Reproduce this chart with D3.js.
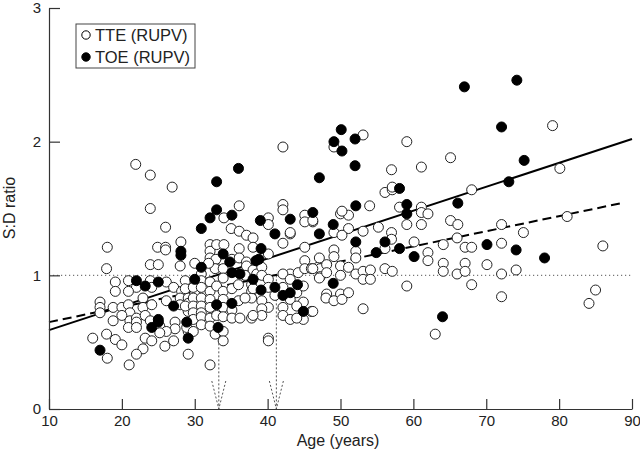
<!DOCTYPE html>
<html><head><meta charset="utf-8">
<script src="https://cdn.jsdelivr.net/npm/d3@7"></script>
<style>body{margin:0;background:#fff}svg{display:block}text{font-family:"Liberation Sans",Arial,sans-serif;fill:#222}</style>
</head><body><svg id="c" width="640" height="453"></svg>
<script>
const xTicks=[10,20,30,40,50,60,70,80,90];
const yTicks=[0,1,2,3];
const seriesNames=["TTE (RUPV)","TOE (RUPV)"];
// TTE (open circles): [age, S:D ratio]
const tte=[
[21.9,1.83],[23.9,1.75],[26.9,1.66],[23.9,1.50],[26.0,1.36],[18.0,1.21],[24.9,1.21],[26.0,1.21],[26.0,1.19],[28.1,1.25],[23.9,1.08],[25.0,1.08],[28.0,1.07],[17.9,1.05],
[19.1,0.95],[19.1,0.88],[20.9,0.96],[23.9,0.96],[26.1,0.95],[22.0,0.91],[24.1,0.91],[20.9,0.88],[22.9,0.83],[27.1,0.91],[28.2,0.88],[29.1,0.93],[30.0,0.92],
[17.0,0.80],[17.0,0.76],[17.0,0.72],[18.8,0.76],[20.0,0.76],[20.9,0.78],[21.1,0.72],[22.9,0.76],[24.1,0.78],[26.1,0.81],[28.0,0.83],[28.0,0.78],[29.1,0.83],[29.1,0.79],[29.1,0.73],[30.0,0.86],
[18.8,0.66],[20.0,0.70],[21.1,0.66],[20.9,0.61],[22.0,0.68],[22.0,0.65],[22.0,0.61],[23.2,0.70],[23.9,0.66],[25.2,0.62],[27.3,0.65],[27.3,0.60],[26.1,0.58],[29.1,0.58],
[16.0,0.53],[17.9,0.56],[19.1,0.52],[20.0,0.48],[23.2,0.53],[24.1,0.51],[25.2,0.57],[27.1,0.51],[25.9,0.47],[18.0,0.38],[22.9,0.45],[22.0,0.41],[21.0,0.33],[29.1,0.41],
[42.1,1.96],[34.0,1.43],[36.1,1.52],[35.0,1.35],[36.1,1.33],[37.1,1.30],[38.0,1.28],[38.0,1.21],[40.1,1.43],[40.1,1.38],[42.1,1.53],[42.1,1.49],[43.1,1.31],[42.1,1.24],[45.1,1.45],[46.2,1.40],[45.1,1.40],[45.1,1.21],[45.1,1.11],
[32.1,1.23],[32.1,1.18],[32.1,1.13],[33.0,1.23],[34.0,1.23],[35.1,1.12],[36.1,1.20],[36.1,1.13],[37.1,1.10],[33.0,1.06],[34.0,1.09],
[32.9,1.12],[37.1,1.07],[38.0,1.04],[30.9,1.01],[32.8,1.05],[33.9,1.05],[33.9,0.98],[36.9,1.00],[30.0,1.09],[31.9,1.09],
[28.7,0.96],[28.7,0.90],[29.8,0.91],[30.9,0.96],[30.9,0.91],[32.1,0.95],[32.1,0.88],[33.0,0.92],[33.9,0.88],[35.1,0.90],[36.0,0.93],[37.8,0.93],[37.8,0.88],[37.8,0.83],
[28.7,0.77],[29.8,0.83],[29.8,0.77],[29.8,0.72],[30.9,0.83],[30.9,0.77],[30.9,0.72],[32.1,0.82],[32.1,0.76],[33.9,0.82],[33.9,0.76],[35.1,0.74],[36.0,0.81],[36.9,0.83],
[29.8,0.67],[30.9,0.69],[30.9,0.63],[32.1,0.68],[32.1,0.62],[33.0,0.70],[33.9,0.69],[35.1,0.68],[36.2,0.68],[37.8,0.68],
[28.9,0.61],[29.8,0.58],[32.8,0.56],[33.9,0.58],[33.9,0.51],[32.1,0.33],
[38.5,1.01],[43.1,1.01],[44.2,1.02],[45.1,1.05],[46.9,1.06],
[43.1,1.32],[40.1,1.16],[47.1,1.13],[46.0,1.05],[47.2,1.05],[47.2,0.99],[39.2,1.06],[39.2,1.00],[42.1,1.01],[43.1,0.97],[40.1,0.97],[40.1,0.91],[42.1,0.91],[41.0,0.85],[44.0,0.87],[38.0,0.90],
[39.2,0.81],[43.1,0.82],[44.9,0.80],[44.0,0.77],[42.1,0.76],[42.1,0.70],[46.0,0.73],[40.1,0.76],[39.2,0.75],[39.2,0.70],[44.9,0.67],[43.1,0.67],[40.1,0.53],[40.1,0.51],[38.0,0.70],[44.0,0.68],[44.9,0.92],
[46.2,1.41],[50.0,1.46],[51.1,1.45],[49.1,1.32],[51.1,1.35],[50.2,1.30],[53.1,1.33],[55.2,1.36],[57.0,1.32],[57.0,1.27],[59.1,1.38],[61.1,1.38],[61.1,1.51],[61.1,1.47],[62.0,1.46],[60.1,1.25],[56.1,1.20],[62.0,1.17],[62.0,1.11],
[49.1,1.19],[49.1,1.14],[52.1,1.18],[52.1,1.13],[48.1,1.08],[46.2,1.05],[47.1,0.98],[48.1,1.02],[50.0,1.07],[50.0,1.00],[51.1,1.06],[52.1,1.01],[53.1,1.03],[53.1,0.97],[54.1,1.04],[54.1,0.97],[56.1,1.05],[57.1,1.03],
[48.1,0.86],[50.0,0.86],[51.1,0.87],[48.0,0.83],[49.1,0.81],[50.2,0.82],[53.1,0.75],[59.1,0.92],[63.0,0.56],[46.2,0.73],
[53.1,2.05],[49.1,1.96],[59.1,2.00],[57.0,1.79],[61.1,1.81],[56.1,1.62],[57.1,1.64],[57.1,1.66],[54.0,1.52],[50.2,1.48],[58.1,1.51],
[79.1,2.12],[65.1,1.88],[80.1,1.80],[68.0,1.64],[65.1,1.41],[66.1,1.38],[72.1,1.38],[75.1,1.32],[81.1,1.44],[86.0,1.22],[64.1,1.23],[66.0,1.28],[67.1,1.21],[68.0,1.21],[72.1,1.24],
[64.1,1.09],[64.1,1.03],[66.0,1.01],[67.1,1.09],[67.1,1.03],[70.1,1.08],[72.1,1.01],[74.1,1.04],[68.0,0.93],[72.1,0.84],[85.0,0.89],[84.1,0.79]
];
// TOE (filled circles): [age, S:D ratio]
const toe=[
[17.0,0.44],[22.0,0.96],[23.2,0.92],[24.1,0.61],[25.0,0.95],[25.0,0.67],[25.0,0.65],[27.1,0.77],[28.1,1.18],[28.1,1.15],[28.9,0.65],[29.1,0.53],[30.0,0.97],[30.9,1.35],[30.9,1.06],
[32.1,1.43],[33.0,1.70],[33.0,1.49],[33.0,0.78],[33.2,0.61],[33.9,1.16],[34.8,1.10],[35.1,1.45],[35.1,1.02],[35.1,0.79],[36.0,1.80],[36.2,1.01],[38.4,1.11],[39.1,1.20],[38.8,1.12],
[39.0,1.41],[38.0,0.97],[39.1,0.89],[41.0,1.31],[41.0,0.91],[42.1,0.85],[43.1,0.87],[43.1,1.42],[44.1,0.93],[44.9,0.73],[46.2,1.47],[47.1,1.31],[47.1,1.73],[49.0,1.38],[49.0,0.94],
[49.1,2.00],[50.1,2.09],[50.2,1.93],[52.0,2.02],[52.0,1.82],[52.1,1.52],[52.1,1.25],[54.9,1.17],[56.1,1.25],[58.1,1.65],[58.1,1.20],[59.1,1.53],[59.1,1.46],[60.1,1.14],[64.0,0.69],
[66.1,1.54],[67.0,2.41],[70.1,1.23],[72.1,2.11],[73.1,1.70],[74.1,1.19],[74.2,2.46],[75.2,1.86],[78.0,1.13]
];
const solidFit=[[10,0.59],[90,2.02]];
const dashedFit=[[10,0.65],[89,1.545]];
const refLevel=[[10,1],[90,1]];
const arrowAges=[33.3,41.2];

const svg=d3.select("#c");
const x=d3.scaleLinear().domain([10,90]).range([49,632]);
const y=d3.scaleLinear().domain([0,3]).range([409,8]);
const line=d3.line().x(d=>x(d[0])).y(d=>y(d[1]));

// reference line at 1
svg.append("path").attr("d",line(refLevel)).attr("fill","none").attr("stroke","#777").attr("stroke-width",1.2).attr("stroke-dasharray","1.2,2.8");
// arrows
arrowAges.forEach(a=>{
  const g=svg.append("g").attr("stroke","#555").attr("stroke-width",1).attr("stroke-dasharray","2,2").attr("fill","none");
  g.append("line").attr("x1",x(a)).attr("x2",x(a)).attr("y1",y(1)).attr("y2",y(0));
  g.append("line").attr("x1",x(a)-7).attr("x2",x(a)).attr("y1",y(0)-28).attr("y2",y(0));
  g.append("line").attr("x1",x(a)+7).attr("x2",x(a)).attr("y1",y(0)-28).attr("y2",y(0));
});
// fits
svg.append("path").attr("d",line(solidFit)).attr("fill","none").attr("stroke","#000").attr("stroke-width",2);
svg.append("path").attr("d",line(dashedFit)).attr("fill","none").attr("stroke","#000").attr("stroke-width",2).attr("stroke-dasharray","9,5");

// points
svg.append("g").selectAll("circle").data(tte).join("circle")
  .attr("cx",d=>x(d[0])).attr("cy",d=>y(d[1])).attr("r",5)
  .attr("fill","#fff").attr("stroke","#222").attr("stroke-width",1);
svg.append("g").selectAll("circle").data(toe).join("circle")
  .attr("cx",d=>x(d[0])).attr("cy",d=>y(d[1])).attr("r",5)
  .attr("fill","#000").attr("stroke","#000").attr("stroke-width",1);

// axes
const xa=svg.append("g").attr("transform","translate(0,409)")
  .call(d3.axisBottom(x).tickValues(xTicks).tickSizeInner(-10).tickSizeOuter(0).tickPadding(6).tickFormat(d3.format("d")));
const ya=svg.append("g").attr("transform","translate(49,0)")
  .call(d3.axisLeft(y).tickValues(yTicks).tickSizeInner(-11).tickSizeOuter(0).tickPadding(8).tickFormat(d3.format("d")));
[xa,ya].forEach(a=>{a.selectAll("path,line").attr("stroke","#333").attr("stroke-width",1.2);
  a.selectAll("text").attr("font-size",15).attr("font-family","Liberation Sans, Arial, sans-serif").attr("fill","#222");});

svg.append("text").attr("x",338).attr("y",446).attr("text-anchor","middle").attr("font-size",16).text("Age (years)");
svg.append("text").attr("transform","translate(15,208) rotate(-90)").attr("text-anchor","middle").attr("font-size",16).text("S:D ratio");

// legend
const lg=svg.append("g");
lg.append("rect").attr("x",76).attr("y",24).attr("width",119).attr("height",44).attr("fill","#fff").attr("stroke","#444").attr("stroke-width",1);
seriesNames.forEach((n,i)=>{
  lg.append("circle").attr("cx",86).attr("cy",35+i*22).attr("r",4.2)
    .attr("fill",i?"#000":"#fff").attr("stroke","#000").attr("stroke-width",1);
  lg.append("text").attr("x",95).attr("y",41+i*22).attr("font-size",16.5).text(n);
});
</script></body></html>
